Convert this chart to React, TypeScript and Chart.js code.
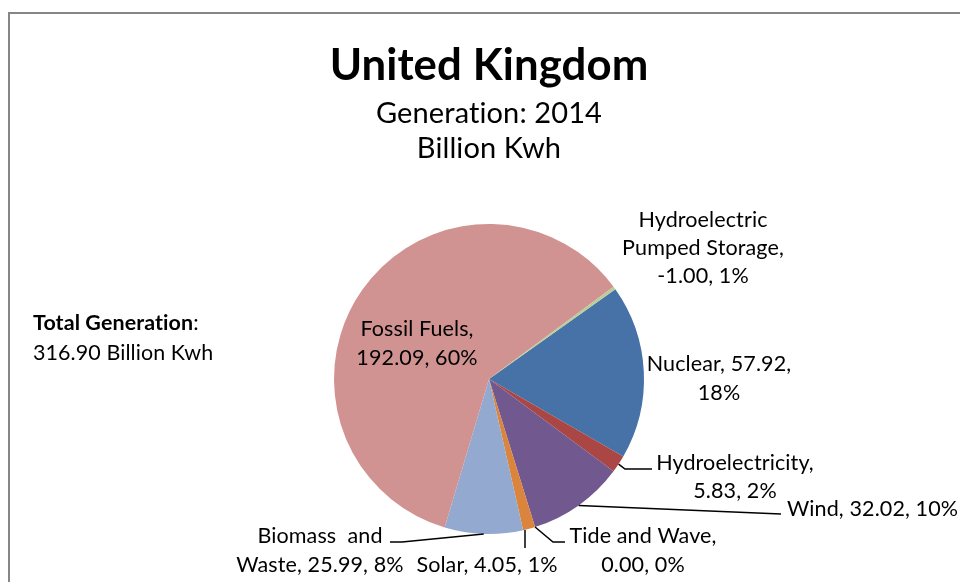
import React, { useEffect, useRef } from 'react';
import { Chart, registerables } from 'chart.js';

Chart.register(...registerables);

// ---- data ----
const categories = [
  'Nuclear',
  'Hydroelectricity',
  'Wind',
  'Tide and Wave',
  'Solar',
  'Biomass and Waste',
  'Fossil Fuels',
  'Hydroelectric Pumped Storage',
];
const generation = [57.92, 5.83, 32.02, 0.0, 4.05, 25.99, 192.09, -1.0];
const shares = ['18%', '2%', '10%', '0%', '1%', '8%', '60%', '1%'];
const totalGeneration = 316.9;
const chartTitle = 'United Kingdom';
const subtitles = ['Generation: 2014', 'Billion Kwh'];

// ---- styles ----
const sliceColors = ['#4672A8', '#AA4644', '#71588F', '#4BACC6', '#DB843D', '#93A9CF', '#D19392', '#B9CD96'];
const FONT = 'Lato, "Noto Sans", sans-serif';

type LabelSpec = {
  i: number;
  x: number;
  y: number;
  step: number;
  align: CanvasTextAlign;
  lines: (n: string, v: string, p: string) => string[];
  leader?: number[][];
};

const labelLayout: LabelSpec[] = [
  { i: 0, x: 719, y: 371, step: 29, align: 'center', lines: (n, v, p) => [`${n}, ${v},`, p] },
  {
    i: 1, x: 735, y: 470, step: 28, align: 'center',
    lines: (n, v, p) => [`${n},`, `${v}, ${p}`],
    leader: [[625, 469], [652, 469]],
  },
  {
    i: 2, x: 787, y: 516, step: 29, align: 'left',
    lines: (n, v, p) => [`${n}, ${v}, ${p}`],
    leader: [[781, 514]],
  },
  {
    i: 3, x: 643, y: 543, step: 29, align: 'center',
    lines: (n, v, p) => [`${n},`, `${v}, ${p}`],
    leader: [[553, 542], [565, 542]],
  },
  {
    i: 4, x: 487, y: 572, step: 29, align: 'center',
    lines: (n, v, p) => [`${n}, ${v}, ${p}`],
    leader: [[525, 530], [525, 548]],
  },
  {
    i: 5, x: 320, y: 543, step: 29, align: 'center',
    lines: (n, v, p) => {
      const [a, b] = n.split(' and ');
      return [`${a}  and`, `${b}, ${v}, ${p}`];
    },
    leader: [[402, 542], [390, 542]],
  },
  { i: 6, x: 417, y: 336, step: 29, align: 'center', lines: (n, v, p) => [`${n},`, `${v}, ${p}`] },
  {
    i: 7, x: 703, y: 227, step: 28, align: 'center',
    lines: (n, v, p) => {
      const k = n.indexOf(' ');
      return [n.slice(0, k), `${n.slice(k + 1)},`, `${v}, ${p}`];
    },
  },
];

function fitSize(ctx: CanvasRenderingContext2D, text: string, weight: string, width: number) {
  ctx.font = `${weight} 100px ${FONT}`;
  return (100 * width) / ctx.measureText(text).width;
}

const annotate = {
  id: 'annotate',
  afterDraw(chart: any) {
    const ctx: CanvasRenderingContext2D = chart.ctx;
    const meta = chart.getDatasetMeta(0);
    ctx.save();
    (ctx as any).letterSpacing = '0.1px';
    ctx.fillStyle = '#000';
    ctx.textBaseline = 'alphabetic';

    // Title
    ctx.textAlign = 'center';
    let s = fitSize(ctx, chartTitle, 'bold', 318);
    ctx.font = `bold ${s}px ${FONT}`;
    ctx.fillText(chartTitle, 489, 80);
    s = fitSize(ctx, subtitles[0], 'normal', 225);
    ctx.font = `normal ${s}px ${FONT}`;
    ctx.fillText(subtitles[0], 489, 123);
    ctx.fillText(subtitles[1], 489, 158);

    // Total generation
    ctx.textAlign = 'left';
    const totalText = `${totalGeneration.toFixed(2)} Billion Kwh`;
    s = fitSize(ctx, totalText, 'normal', 179);
    ctx.font = `bold ${s}px ${FONT}`;
    const boldPart = 'Total Generation';
    ctx.fillText(boldPart, 33, 330);
    const bw = ctx.measureText(boldPart).width;
    ctx.font = `normal ${s}px ${FONT}`;
    ctx.fillText(':', 33 + bw, 330);
    ctx.fillText(totalText, 33, 360);

    // Data labels
    const ls = fitSize(ctx, 'Wind, 32.02, 10%', 'normal', 170);
    ctx.font = `normal ${ls}px ${FONT}`;
    ctx.strokeStyle = '#000';
    ctx.lineWidth = 1.5;
    labelLayout.forEach((l) => {
      const arc = meta.data[l.i];
      const { x, y, startAngle, endAngle, outerRadius } = arc.getProps(
        ['x', 'y', 'startAngle', 'endAngle', 'outerRadius'],
        true
      );
      if (l.leader) {
        const mid = (startAngle + endAngle) / 2;
        ctx.beginPath();
        ctx.moveTo(x + Math.cos(mid) * outerRadius, y + Math.sin(mid) * outerRadius);
        if (l.i === 4) {
          ctx.moveTo(l.leader[0][0], l.leader[0][1]);
          ctx.lineTo(l.leader[1][0], l.leader[1][1]);
        } else {
          l.leader.forEach((p) => ctx.lineTo(p[0], p[1]));
        }
        ctx.stroke();
      }
      const lines = l.lines(categories[l.i], generation[l.i].toFixed(2), shares[l.i]);
      ctx.textAlign = l.align;
      lines.forEach((t, k) => ctx.fillText(t, l.x, l.y + k * l.step));
    });
    ctx.restore();
  },
};

export default function App() {
  const ref = useRef<HTMLCanvasElement | null>(null);

  useEffect(() => {
    if (!ref.current) return;
    const chart = new Chart(ref.current, {
      type: 'pie',
      data: {
        labels: categories,
        datasets: [
          {
            data: generation,
            backgroundColor: sliceColors,
            borderWidth: 0,
            hoverOffset: 0,
          },
        ],
      },
      options: {
        responsive: false,
        animation: false,
        rotation: 54.6,
        layout: { padding: { left: 334, right: 316, top: 224, bottom: 48 } },
        plugins: {
          legend: { display: false },
          tooltip: { enabled: false },
          title: { display: false },
        },
        events: [],
      },
      plugins: [annotate],
    });
    return () => chart.destroy();
  }, []);

  return (
    <div style={{ position: 'fixed', left: 0, top: 0, width: 960, height: 582, background: '#fff', overflow: 'hidden' }}>
      <div
        style={{
          position: 'absolute',
          left: 8,
          top: 12,
          width: 960,
          height: 600,
          borderLeft: '2px solid #868686',
          borderTop: '2px solid #868686',
        }}
      />
      <canvas ref={ref} width={960} height={582} style={{ position: 'absolute', left: 0, top: 0 }} />
    </div>
  );
}
